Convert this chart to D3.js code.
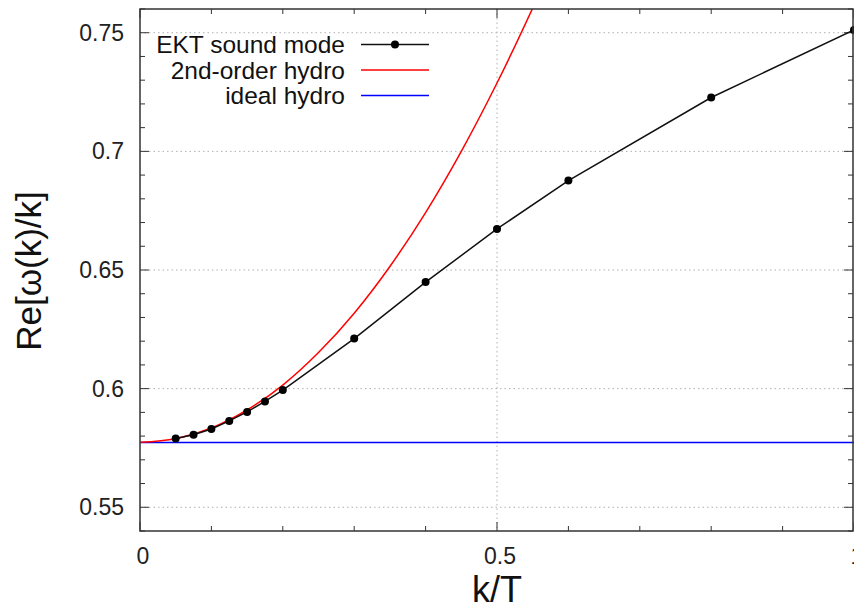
<!DOCTYPE html>
<html>
<head>
<meta charset="utf-8">
<script src="https://cdn.jsdelivr.net/npm/d3@7"></script>
<style>
  html, body { margin: 0; padding: 0; background: #fff; overflow: hidden; }
  svg { display: block; font-family: "Liberation Sans", Arial, Helvetica, sans-serif; }
</style>
</head>
<body>
<svg id="chart" width="854" height="607"></svg>
<script>
// ---- data ----
const ektK  = [0.05, 0.075, 0.1, 0.125, 0.15, 0.175, 0.2, 0.3, 0.4, 0.5, 0.6, 0.8, 1.0];
const ektRe = [0.5790, 0.5806, 0.5830, 0.5864, 0.5902, 0.5946, 0.5994, 0.6211, 0.6449, 0.6673, 0.6877, 0.7227, 0.7512];

const hydro2K  = [0, 0.05, 0.1, 0.15, 0.2, 0.25, 0.3, 0.35, 0.4, 0.45, 0.5, 0.55, 0.56];
const hydro2Re = [0.5774, 0.5789, 0.5834, 0.5910, 0.6015, 0.6152, 0.6318, 0.6515, 0.6742, 0.7000, 0.7288, 0.7604, 0.7670];

const idealK  = [0, 1];
const idealRe = [0.57735, 0.57735];

const xMajorTicks = [0, 0.5, 1];
const xTickLabels = ["0", "0.5", "1"];
const yMajorTicks = [0.55, 0.6, 0.65, 0.7, 0.75];
const yTickLabels = ["0.55", "0.6", "0.65", "0.7", "0.75"];

const legendLabels = ["EKT sound mode", "2nd-order hydro", "ideal hydro"];
const seriesColors = ["#000000", "#ff0000", "#0000ff"];

// ---- layout ----
const L = 140, R = 854, T = 9, B = 531;
const svg = d3.select("#chart");
const x = d3.scaleLinear().domain([0, 1]).range([L, R]);
const y = d3.scaleLinear().domain([0.54, 0.76]).range([B, T]);

svg.append("defs").append("clipPath").attr("id", "plotclip")
  .append("rect").attr("x", L).attr("y", T).attr("width", R - L).attr("height", B - T);

// grid
const grid = svg.append("g").attr("stroke", "#b0b0b0").attr("stroke-width", 1)
  .attr("stroke-dasharray", "1.5,3");
grid.selectAll("line.gy").data(yMajorTicks).enter().append("line")
  .attr("x1", L).attr("x2", R).attr("y1", d => y(d)).attr("y2", d => y(d));
grid.selectAll("line.gx").data([0.5]).enter().append("line")
  .attr("y1", T).attr("y2", B).attr("x1", d => x(d)).attr("x2", d => x(d));

// ticks (mirrored, inward)
const yMinor = d3.range(0.54, 0.7601, 0.01).map(v => +v.toFixed(2));
const xMinor = d3.range(0, 1.001, 0.1).map(v => +v.toFixed(1));
const tk = svg.append("g").attr("stroke", "#333").attr("stroke-width", 1);
function isMajorY(v) { return yMajorTicks.some(m => Math.abs(m - v) < 1e-6); }
function isMajorX(v) { return xMajorTicks.some(m => Math.abs(m - v) < 1e-6); }
yMinor.forEach(v => {
  const len = isMajorY(v) ? 9 : 5;
  tk.append("line").attr("x1", L).attr("x2", L + len).attr("y1", y(v)).attr("y2", y(v));
  tk.append("line").attr("x1", R - 1).attr("x2", R - 1 - len).attr("y1", y(v)).attr("y2", y(v));
});
xMinor.forEach(v => {
  const len = isMajorX(v) ? 9 : 5;
  tk.append("line").attr("y1", B).attr("y2", B - len).attr("x1", x(v)).attr("x2", x(v));
  tk.append("line").attr("y1", T).attr("y2", T + len).attr("x1", x(v)).attr("x2", x(v));
});

// series
const plot = svg.append("g").attr("clip-path", "url(#plotclip)");
const lineGen = d3.line().x(d => x(d[0])).y(d => y(d[1]));

plot.append("path").datum(idealK.map((k, i) => [k, idealRe[i]]))
  .attr("d", lineGen).attr("fill", "none").attr("stroke", seriesColors[2]).attr("stroke-width", 1.5);

plot.append("path").datum(hydro2K.map((k, i) => [k, hydro2Re[i]]))
  .attr("d", lineGen.curve(d3.curveMonotoneX)).attr("fill", "none")
  .attr("stroke", seriesColors[1]).attr("stroke-width", 1.5);

const ektLine = d3.line().x(d => x(d[0])).y(d => y(d[1]));
const ektData = ektK.map((k, i) => [k, ektRe[i]]);
plot.append("path").datum(ektData)
  .attr("d", ektLine).attr("fill", "none").attr("stroke", "#111").attr("stroke-width", 1.5);
svg.append("g").selectAll("circle").data(ektData).enter().append("circle")
  .attr("cx", d => x(d[0])).attr("cy", d => y(d[1])).attr("r", 4).attr("fill", "#000");

// frame
svg.append("rect").attr("x", L).attr("y", T).attr("width", R - L - 1).attr("height", B - T)
  .attr("fill", "none").attr("stroke", "#333").attr("stroke-width", 1.5);

// tick labels
svg.append("g").selectAll("text").data(yMajorTicks).enter().append("text")
  .attr("x", 124).attr("y", d => y(d)).attr("dy", "0.35em")
  .attr("text-anchor", "end").attr("font-size", 23).attr("fill", "#222")
  .text((d, i) => yTickLabels[i]);
svg.append("g").selectAll("text").data(xMajorTicks).enter().append("text")
  .attr("x", d => x(d) + 3).attr("y", 564)
  .attr("text-anchor", "middle").attr("font-size", 23).attr("fill", "#222")
  .text((d, i) => xTickLabels[i]);

// axis labels
svg.append("text").attr("x", 497).attr("y", 602).attr("text-anchor", "middle")
  .attr("font-size", 36).attr("fill", "#111").text("k/T");
svg.append("text").attr("transform", "translate(41,271) rotate(-90)")
  .attr("text-anchor", "middle").attr("font-size", 35).attr("fill", "#111").text("Re[ω(k)/k]");

// legend
const lg = svg.append("g");
const rowY = [44.5, 70, 95.5];
legendLabels.forEach((lab, i) => {
  lg.append("text").attr("x", 345).attr("y", rowY[i]).attr("dy", "0.35em")
    .attr("text-anchor", "end").attr("font-size", 24.5).attr("fill", "#111").text(lab);
  lg.append("line").attr("x1", 361).attr("x2", 429).attr("y1", rowY[i]).attr("y2", rowY[i])
    .attr("stroke", i === 0 ? "#111" : seriesColors[i]).attr("stroke-width", 1.5);
  if (i === 0) lg.append("circle").attr("cx", 395).attr("cy", rowY[i]).attr("r", 4).attr("fill", "#000");
});
</script>
</body>
</html>
